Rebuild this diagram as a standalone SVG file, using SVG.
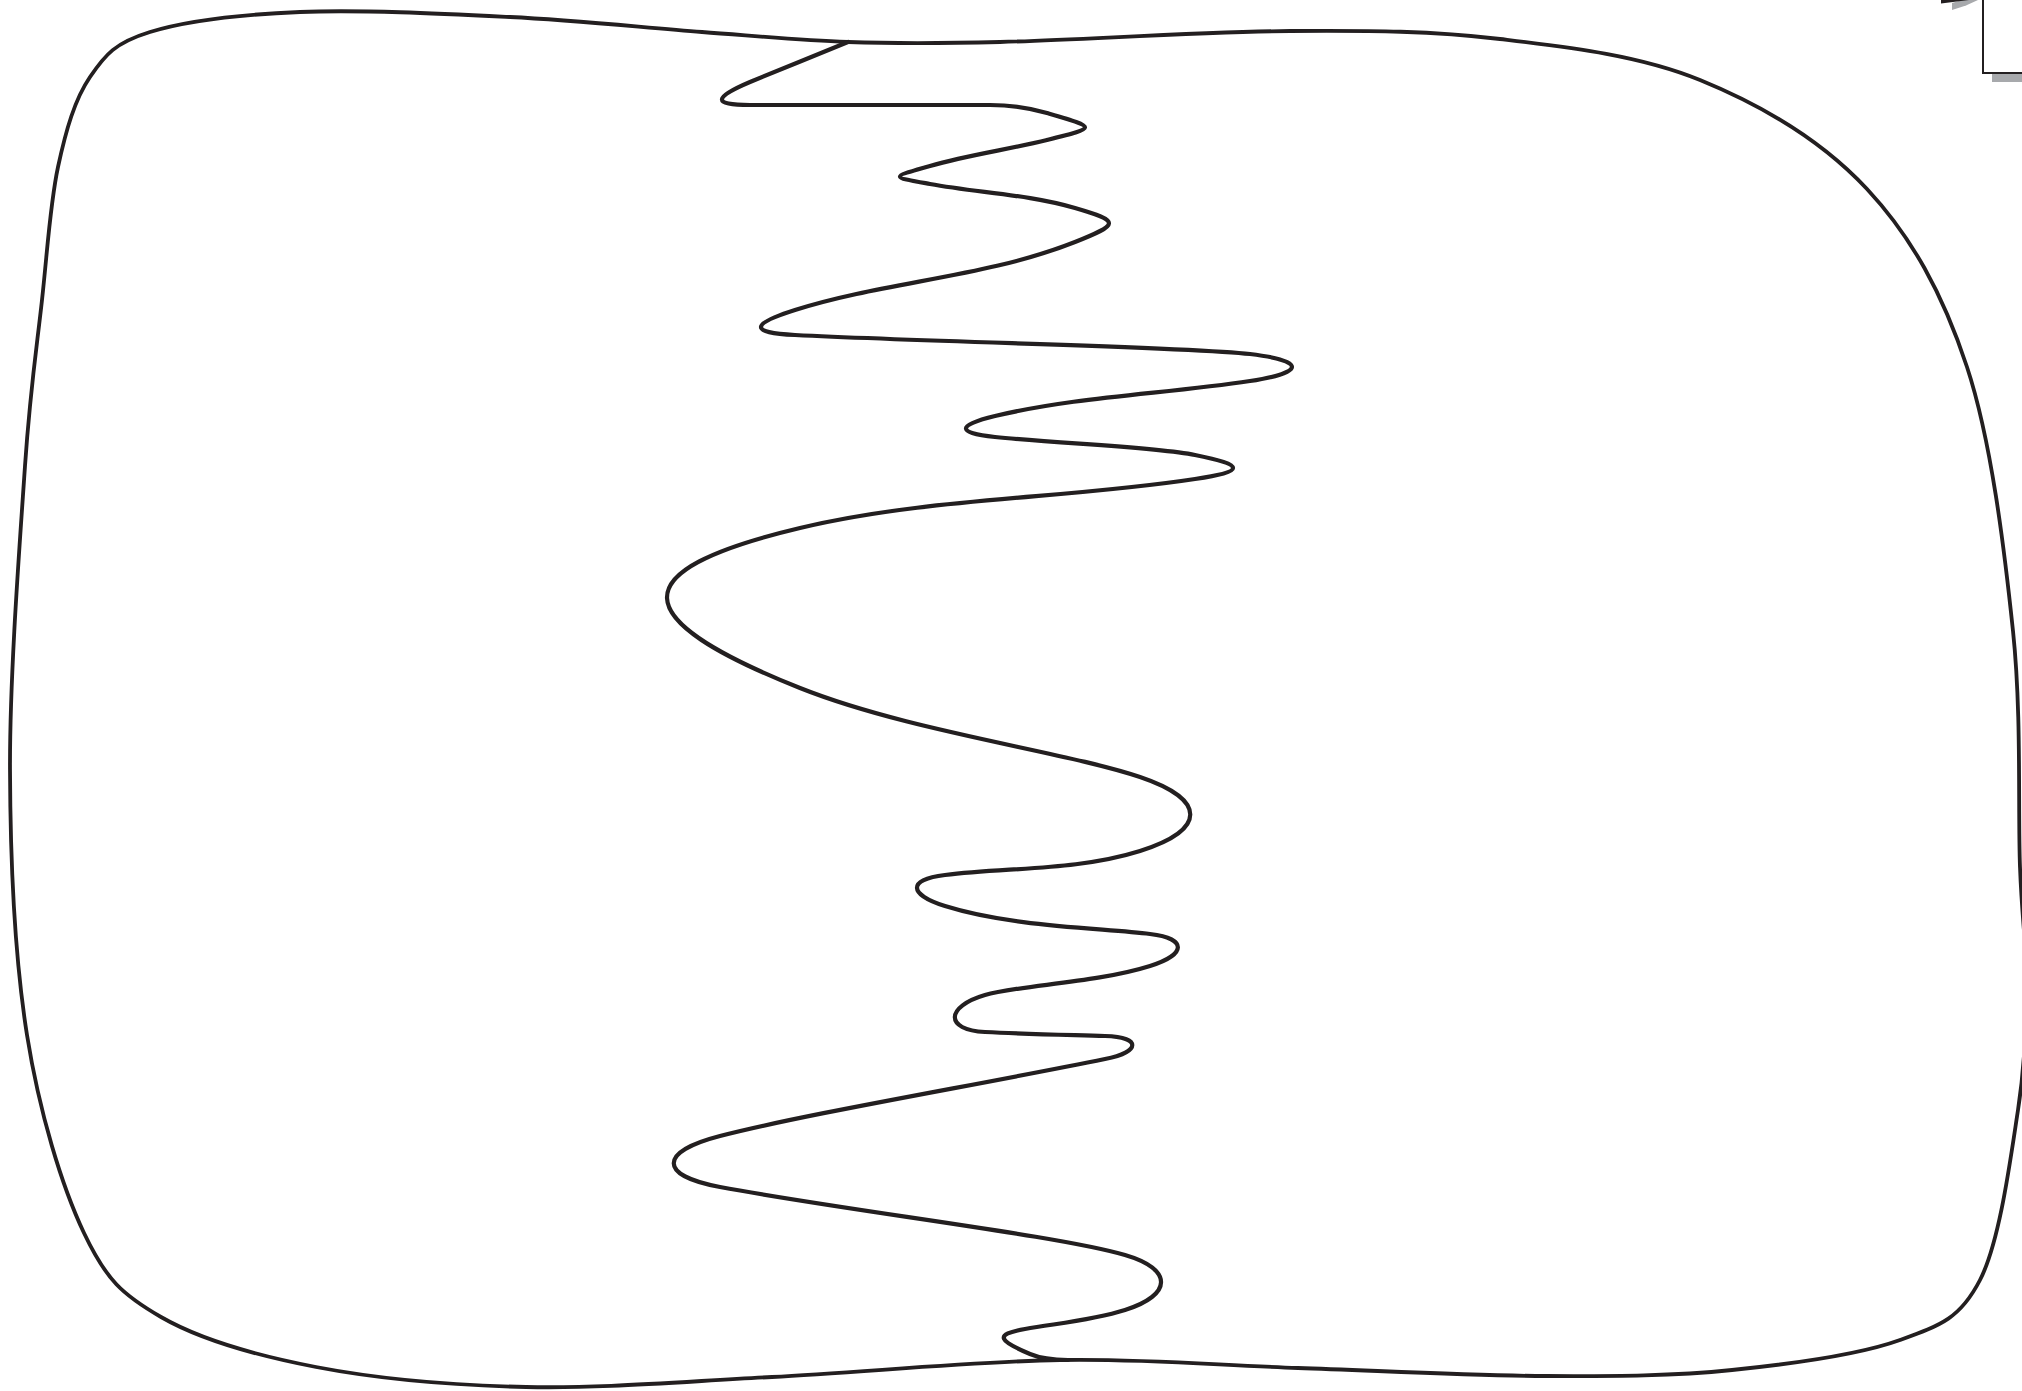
<svg xmlns="http://www.w3.org/2000/svg" width="2022" height="1391" viewBox="0 0 2022 1391">
<style>
.ink{fill:none;stroke:#231f20;stroke-linecap:round;stroke-linejoin:round}
.outer{stroke-width:3.8}
.wig{stroke-width:4.2}
.shadow{fill:#a7a9ac;stroke:none}
</style>
<rect width="2022" height="1391" fill="#ffffff"/>
<g id="outline">
<path class="ink outer" d="M42,300 C47.5,250.2 50,204.2 58,167 C66,129.8 74.7,99.5 90,77 C105.3,54.5 115,42.8 150,32 C185,21.2 240,14.5 300,12 C360,9.5 443,13.7 510,17 C577,20.3 645.7,27.8 702,32 C758.3,36.2 798.3,40.3 848,42 C897.7,43.7 926.3,43.8 1000,42 C1073.7,40.2 1206.7,31.5 1290,31 C1373.3,30.5 1431.7,30.8 1500,39 C1568.3,47.2 1638.8,55 1700,80 C1761.2,105 1822.5,141.2 1867,189 C1911.5,236.8 1942.7,293.3 1967,367 C1991.3,440.7 2004.2,547.7 2013,631 C2021.8,714.3 2017.8,808.8 2020,867 C2022.2,925.2 2026.3,939.5 2026,980 C2025.7,1020.5 2025.7,1060 2018,1110 C2010.3,1160 1999.7,1241.7 1980,1280 C1960.3,1318.3 1941.3,1325 1900,1340 C1858.7,1355 1791,1364 1732,1370 C1673,1376 1618.3,1376.3 1546,1376 C1473.7,1375.7 1379,1370.7 1298,1368 C1217,1365.3 1147.7,1358.5 1060,1360 C972.3,1361.5 861,1372.5 772,1377 C683,1381.5 602,1388.7 526,1387 C450,1385.3 376.8,1378.7 316,1367 C255.2,1355.3 199.7,1339.3 161,1317 C122.3,1294.7 106.3,1280 84,1233 C61.7,1186 39.3,1112.3 27,1035 C14.7,957.7 10.3,863.8 10,769 C9.7,674.2 19.7,544.2 25,466 C30.3,387.8 36.5,349.8 42,300 Z"/>
</g>
<g id="wiggle">
<path class="ink wig" d="M848,42 C815,55.5 783,68.5 750,82 C714.2,97.2 711.1,105 750,105 L990,105 C1010,105 1030,108 1047,113 C1097.4,127.7 1097.9,127.4 1047,140 C1008.2,149.6 968.4,154.8 930,166 C890.4,177.5 889.6,176.6 930,184 C978,192.8 1028,194.3 1075,208 C1121,221.4 1119.6,224.2 1075,242 C985.7,277.5 886.2,281.2 795,310 C750.8,324 748.5,332.7 795,335 C947,342.6 1190.6,346.8 1250,354 C1306.2,360.8 1305.7,372.5 1250,381 C1165.7,393.9 1078.4,396.2 995,416 C956.7,425.1 955.9,433 995,437 C1061.3,443.7 1155.8,447 1195,455 C1245.7,465.3 1245.7,471.2 1195,479 C1065,499 929,497.4 800,528 C619,570.9 626.4,618.9 800,688 C908.8,731.3 1064,751.4 1140,777 C1207,799.6 1207,829.8 1140,851 C1078.2,870.5 1009.4,867.2 945,875 C906.9,879.6 908.4,894.4 945,906 C1010.6,926.7 1100.5,928 1150,934 C1187.9,938.6 1186.4,954.5 1150,966 C1096.8,982.8 1018.6,985.2 985,995 C945.6,1006.5 944,1030 985,1032 C1025,1034 1065,1034.8 1105,1036 C1141.7,1037.1 1141,1051.7 1105,1059 C976.6,1085.2 807.3,1113.5 720,1136 C658.7,1151.8 658,1175.6 720,1187 C854,1211.7 1057.8,1235.4 1125,1255 C1173.3,1269.1 1172.8,1294.9 1125,1310 C1092.7,1320.2 1058.3,1323.2 1025,1329 C992.7,1334.6 999.6,1341.1 1030,1354 C1041,1358.7 1058,1360 1068,1360"/>
</g>
<g id="corner-box">
<polygon class="shadow" points="1952,3 1952,10 1966,5.5 1978,0 1962,0"/>
<polygon fill="#231f20" points="1941,0 1941,3.5 1969,0"/>
<rect class="shadow" x="1992" y="-20" width="60" height="102"/>
<rect x="1983" y="-20" width="60" height="93" fill="#ffffff" stroke="#231f20" stroke-width="2"/>
</g>
</svg>
